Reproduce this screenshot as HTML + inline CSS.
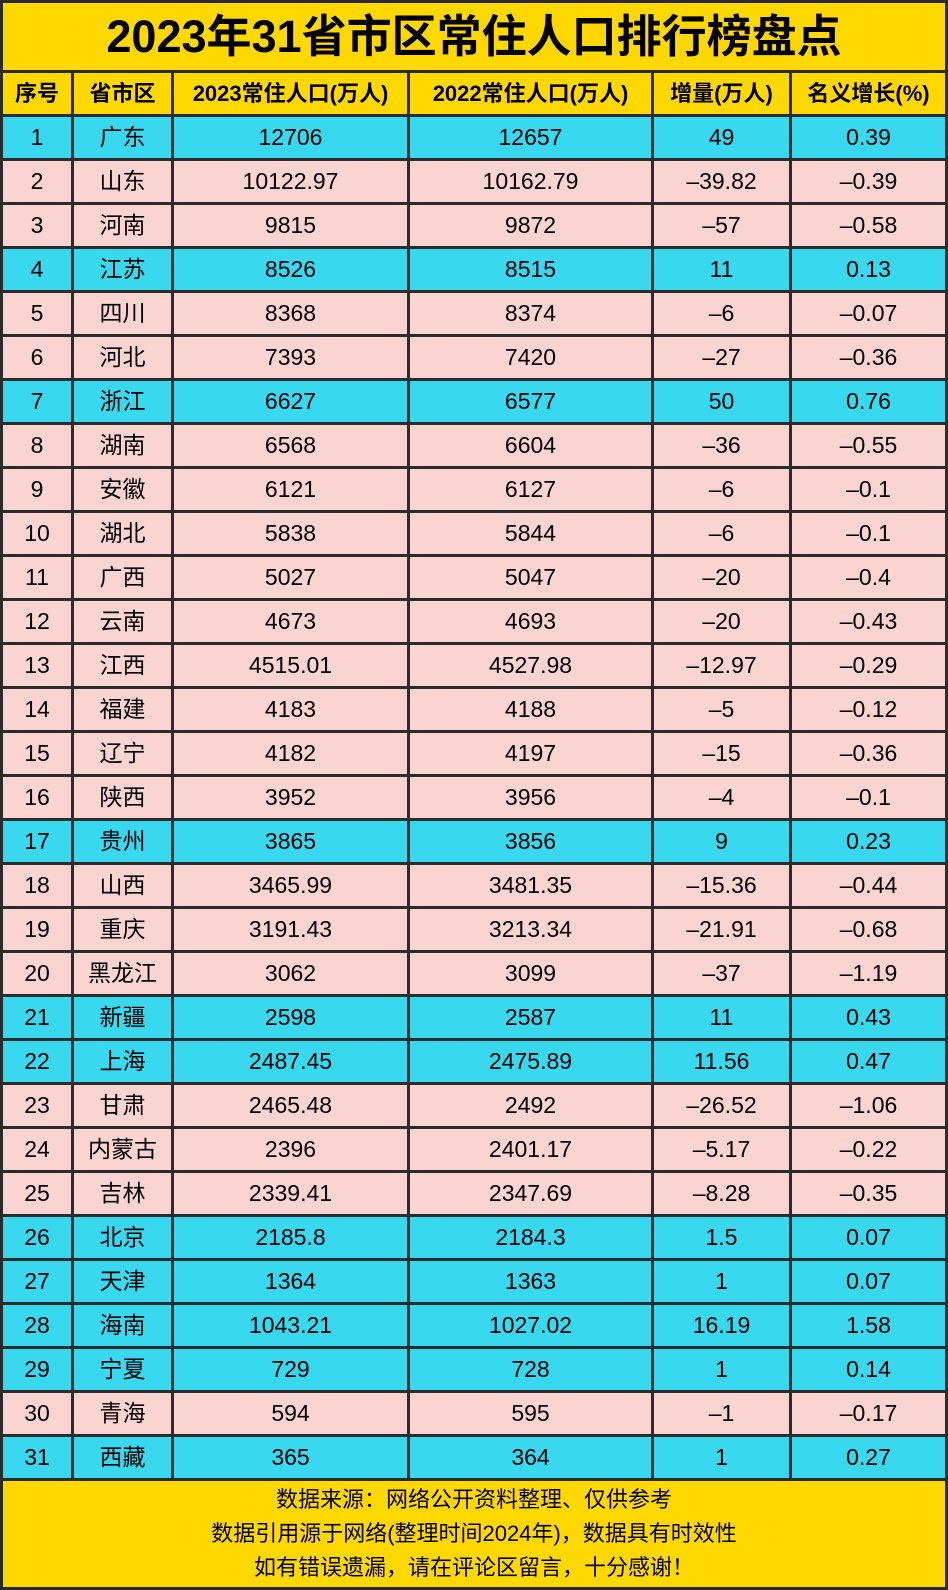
<!DOCTYPE html><html><head><meta charset="utf-8"><style>
html,body{margin:0;padding:0;background:#2a2a2a;}
body{width:948px;height:1590px;position:relative;overflow:hidden;font-family:"Liberation Sans","Noto Sans CJK SC",sans-serif;color:#000}
.title{position:absolute;left:3px;top:3px;width:942px;height:67px;background:#FFD800;text-align:center;font-weight:bold;font-size:45px;line-height:67px;}
.g{position:absolute;left:0;top:70px;width:948px;box-sizing:border-box;padding:3px;background:#2b2b2b;display:grid;grid-template-columns:68px 97px 233px 241px 135px 153px;grid-auto-rows:41px;gap:3px;}
.r{display:contents}
.r div{text-align:center;font-size:23px;line-height:41px;white-space:nowrap;}
.h div{background:#FFD800;font-weight:bold;font-size:22px;}
.b div{background:#38D8EE;}
.p div{background:#FAD4D0;}
.foot{position:absolute;left:3px;top:1481px;width:942px;height:106px;background:#FFD800;text-align:center;font-size:22px;line-height:34px;padding-top:2px;box-sizing:border-box;}
</style></head><body>
<div class="title">2023年31省市区常住人口排行榜盘点</div>
<div class="g">
<div class="r h"><div>序号</div><div>省市区</div><div>2023常住人口(万人)</div><div>2022常住人口(万人)</div><div>增量(万人)</div><div>名义增长(%)</div></div>
<div class="r b"><div>1</div><div>广东</div><div>12706</div><div>12657</div><div>49</div><div>0.39</div></div>
<div class="r p"><div>2</div><div>山东</div><div>10122.97</div><div>10162.79</div><div>–39.82</div><div>–0.39</div></div>
<div class="r p"><div>3</div><div>河南</div><div>9815</div><div>9872</div><div>–57</div><div>–0.58</div></div>
<div class="r b"><div>4</div><div>江苏</div><div>8526</div><div>8515</div><div>11</div><div>0.13</div></div>
<div class="r p"><div>5</div><div>四川</div><div>8368</div><div>8374</div><div>–6</div><div>–0.07</div></div>
<div class="r p"><div>6</div><div>河北</div><div>7393</div><div>7420</div><div>–27</div><div>–0.36</div></div>
<div class="r b"><div>7</div><div>浙江</div><div>6627</div><div>6577</div><div>50</div><div>0.76</div></div>
<div class="r p"><div>8</div><div>湖南</div><div>6568</div><div>6604</div><div>–36</div><div>–0.55</div></div>
<div class="r p"><div>9</div><div>安徽</div><div>6121</div><div>6127</div><div>–6</div><div>–0.1</div></div>
<div class="r p"><div>10</div><div>湖北</div><div>5838</div><div>5844</div><div>–6</div><div>–0.1</div></div>
<div class="r p"><div>11</div><div>广西</div><div>5027</div><div>5047</div><div>–20</div><div>–0.4</div></div>
<div class="r p"><div>12</div><div>云南</div><div>4673</div><div>4693</div><div>–20</div><div>–0.43</div></div>
<div class="r p"><div>13</div><div>江西</div><div>4515.01</div><div>4527.98</div><div>–12.97</div><div>–0.29</div></div>
<div class="r p"><div>14</div><div>福建</div><div>4183</div><div>4188</div><div>–5</div><div>–0.12</div></div>
<div class="r p"><div>15</div><div>辽宁</div><div>4182</div><div>4197</div><div>–15</div><div>–0.36</div></div>
<div class="r p"><div>16</div><div>陕西</div><div>3952</div><div>3956</div><div>–4</div><div>–0.1</div></div>
<div class="r b"><div>17</div><div>贵州</div><div>3865</div><div>3856</div><div>9</div><div>0.23</div></div>
<div class="r p"><div>18</div><div>山西</div><div>3465.99</div><div>3481.35</div><div>–15.36</div><div>–0.44</div></div>
<div class="r p"><div>19</div><div>重庆</div><div>3191.43</div><div>3213.34</div><div>–21.91</div><div>–0.68</div></div>
<div class="r p"><div>20</div><div>黑龙江</div><div>3062</div><div>3099</div><div>–37</div><div>–1.19</div></div>
<div class="r b"><div>21</div><div>新疆</div><div>2598</div><div>2587</div><div>11</div><div>0.43</div></div>
<div class="r b"><div>22</div><div>上海</div><div>2487.45</div><div>2475.89</div><div>11.56</div><div>0.47</div></div>
<div class="r p"><div>23</div><div>甘肃</div><div>2465.48</div><div>2492</div><div>–26.52</div><div>–1.06</div></div>
<div class="r p"><div>24</div><div>内蒙古</div><div>2396</div><div>2401.17</div><div>–5.17</div><div>–0.22</div></div>
<div class="r p"><div>25</div><div>吉林</div><div>2339.41</div><div>2347.69</div><div>–8.28</div><div>–0.35</div></div>
<div class="r b"><div>26</div><div>北京</div><div>2185.8</div><div>2184.3</div><div>1.5</div><div>0.07</div></div>
<div class="r b"><div>27</div><div>天津</div><div>1364</div><div>1363</div><div>1</div><div>0.07</div></div>
<div class="r b"><div>28</div><div>海南</div><div>1043.21</div><div>1027.02</div><div>16.19</div><div>1.58</div></div>
<div class="r b"><div>29</div><div>宁夏</div><div>729</div><div>728</div><div>1</div><div>0.14</div></div>
<div class="r p"><div>30</div><div>青海</div><div>594</div><div>595</div><div>–1</div><div>–0.17</div></div>
<div class="r b"><div>31</div><div>西藏</div><div>365</div><div>364</div><div>1</div><div>0.27</div></div>
</div>
<div class="foot">数据来源：网络公开资料整理、仅供参考<br>数据引用源于网络(整理时间2024年)，数据具有时效性<br>如有错误遗漏，请在评论区留言，十分感谢！</div>
</body></html>
